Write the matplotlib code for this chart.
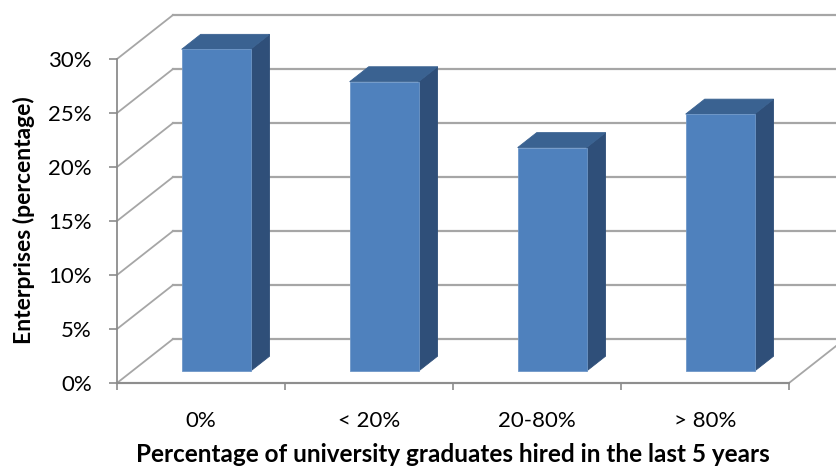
import numpy as np
import matplotlib.pyplot as plt
from matplotlib.patches import Polygon

categories = ["0%", "< 20%", "20-80%", "> 80%"]
shares = [29.8, 26.8, 20.7, 23.8]          # % of enterprises
y_ticks = [0, 5, 10, 15, 20, 25, 30]
y_tick_labels = [f"{t}%" for t in y_ticks]

FRONT = "#4F81BD"
SIDE = "#2F4F79"
TOP = "#3A6291"
GRID = "#A6A6A6"
AXIS = "#8C8C8C"

# oblique "3-D" offsets for full depth, in data units
DX, DY = 0.333, 4.07
F0, F1 = 0.27, 0.61          # front / back depth of the columns
HALF = 0.205                 # half column width

plt.rcParams["font.family"] = ["Lato", "DejaVu Sans"]

W, H = 837, 475
fig = plt.figure(figsize=(W / 100, H / 100), dpi=100)
ax = fig.add_axes([117 / W, (H - 383) / H, (W - 117) / W, 383 / H])
ax.set_xlim(-0.5, -0.5 + 720 / 168)
ax.set_ylim(0, 383 / 10.8)
ax.patch.set_visible(False)


def proj(x, y, f):
    return x + f * DX, y + f * DY


# back wall gridlines and left wall diagonals
xr = ax.get_xlim()[1] + 1
for t in y_ticks:
    bx, by = proj(-0.5, t, 1)
    ax.plot([bx, xr], [by, by], color=GRID, lw=1.6, zorder=1, clip_on=True)
    ax.plot([-0.5, bx], [t, by], color=GRID, lw=1.3, zorder=1, clip_on=False)

# floor edges
fx, fy = proj(3.5, 0, 1)
ax.plot([3.5, fx], [0, fy], color=GRID, lw=1.3, zorder=1)
ax.plot([-0.5, 3.5], [0, 0], color=GRID, lw=1.6, zorder=1, clip_on=False)

# columns
for i, v in enumerate(shares):
    x0, x1 = i - HALF, i + HALF
    front = [proj(x0, 0, F0), proj(x1, 0, F0), proj(x1, v, F0), proj(x0, v, F0)]
    side = [proj(x1, 0, F0), proj(x1, 0, F1), proj(x1, v, F1), proj(x1, v, F0)]
    top = [proj(x0, v, F0), proj(x1, v, F0), proj(x1, v, F1), proj(x0, v, F1)]
    ax.add_patch(Polygon(side, closed=True, fc=SIDE, ec=SIDE, lw=0.6, zorder=3))
    ax.add_patch(Polygon(top, closed=True, fc=TOP, ec=TOP, lw=0.6, zorder=3))
    ax.add_patch(Polygon(front, closed=True, fc=FRONT, ec="#6E97C8", lw=0.6, zorder=4))

for s in ["top", "right"]:
    ax.spines[s].set_visible(False)
ax.spines["left"].set_bounds(0, 30)
ax.spines["bottom"].set_bounds(-0.5, 3.5)
for s in ["left", "bottom"]:
    ax.spines[s].set_color(AXIS)
    ax.spines[s].set_linewidth(1.3)
    ax.spines[s].set_zorder(2)

ax.set_yticks(y_ticks)
ax.set_yticklabels(y_tick_labels)
ax.tick_params(axis="y", length=6, width=1.2, color=AXIS, pad=12,
               labelsize=16, labelcolor="black")

ax.set_xticks([-0.5, 0.5, 1.5, 2.5, 3.5])
ax.set_xticklabels([])
ax.set_xticks(np.arange(len(categories)), minor=True)
ax.set_xticklabels(categories, minor=True)
ax.tick_params(axis="x", which="major", length=5, width=1.2, color=AXIS)
ax.tick_params(axis="x", which="minor", length=0, pad=20,
               labelsize=16, labelcolor="black")

fig.text(453 / W, 1 - 455 / H, "Percentage of university graduates hired in the last 5 years",
         ha="center", va="center", fontsize=17.5, fontweight="bold")
fig.text(24 / W, 1 - 220 / H, "Enterprises (percentage)", rotation=90,
         ha="center", va="center", fontsize=16.5, fontweight="bold")

fig.savefig("out.png", dpi=100)
